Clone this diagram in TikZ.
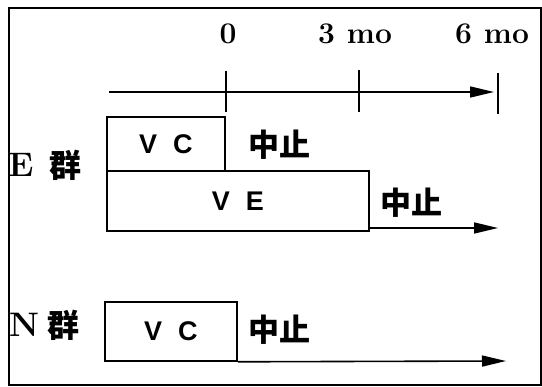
\documentclass[tikz,border=0pt]{standalone}
\usepackage{fontspec}
\newfontfamily\sansb{Liberation Sans}
\newfontfamily\cjk{Noto Sans CJK JP}
\usetikzlibrary{arrows.meta,calc}
\begin{document}
\begin{tikzpicture}[x=1pt,y=-1pt,
  line width=1.6pt,
  boxst/.style={draw,rectangle,inner sep=0pt,font=\sansb\bfseries\fontsize{27}{27}\selectfont},
  numst/.style={inner sep=0pt,anchor=base,font=\bfseries\fontsize{30}{30}\selectfont},
  grpst/.style={inner sep=0pt,font=\bfseries\fontsize{34}{34}\selectfont},
  cjkst/.style={inner sep=0pt,font=\cjk\bfseries\fontsize{31}{31}\selectfont},
  kunst/.style={inner sep=0pt,font=\cjk\bfseries\fontsize{32}{32}\selectfont},
  arr/.style={-{Triangle[length=24pt,width=11pt]}}]
\useasboundingbox (0,0) rectangle (542,387);
\draw[line width=1.3pt] (9,8) rectangle (541,385);
% time axis
\coordinate (a0) at (109,92);
\coordinate (a1) at (494,92);
\draw[arr] (a0) -- (a1);
\coordinate (t0a) at (226,71); \coordinate (t0b) at (226,112);
\coordinate (t3a) at (359,70); \coordinate (t3b) at (359,112);
\coordinate (t6a) at (498,73); \coordinate (t6b) at (498,114);
\draw (t0a) -- (t0b);
\draw (t3a) -- (t3b);
\draw (t6a) -- (t6b);
\node[numst] (l0) at (228,44) {0};
\node[numst] (l3) at (355,44) {3\hspace{12pt}mo};
\node[numst] (l6) at (492,44) {6\hspace{12pt}mo};
% E group
\node[grpst] (eE) at (21,165) {E};
\node[kunst] (eg) at (65,165) {群};
\node[boxst,minimum width=118pt,minimum height=54pt] (evc) at (166,144) {V\hspace{16pt}C};
\node[boxst,minimum width=262pt,minimum height=60pt] (eve) at (238,201) {V\hspace{16pt}E};
\node[cjkst] (es1) at (279,145) {中止};
\node[cjkst] (es2) at (411,203) {中止};
\coordinate (eend) at (498,228);
\draw[arr] (eve.south east |- eend) -- (eend);
% N group
\node[grpst] (nN) at (24,325) {N};
\node[kunst] (ng) at (63,325) {群};
\node[boxst,minimum width=132pt,minimum height=59pt] (nvc) at (171,331.5) {V\hspace{16pt}C};
\node[cjkst] (ns) at (279,330) {中止};
\coordinate (nend) at (506,361);
\draw[arr] (nvc.south east) -- (nend);
\end{tikzpicture}
\end{document}
